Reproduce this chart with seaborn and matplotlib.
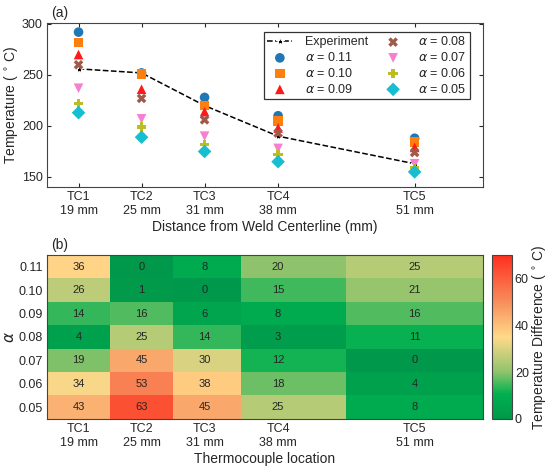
import numpy as np
import pandas as pd
import seaborn as sns
import matplotlib.pyplot as plt
from matplotlib.colors import LinearSegmentedColormap

# thermocouple positions
tc_names = ['TC1', 'TC2', 'TC3', 'TC4', 'TC5']
distance = [19, 25, 31, 38, 51]
tick_labels = ['TC1\n19 mm', 'TC2\n25 mm', 'TC3\n31 mm', 'TC4\n38 mm', 'TC5\n51 mm']

experiment = [256, 252, 220, 190, 163]

alphas = ['0.11', '0.10', '0.09', '0.08', '0.07', '0.06', '0.05']
sim_011 = [292, 252, 228, 210, 188]
sim_010 = [282, 251, 220, 205, 184]
sim_009 = [270, 236, 214, 198, 179]
sim_008 = [260, 227, 206, 193, 174]
sim_007 = [237, 207, 190, 178, 163]
sim_006 = [222, 199, 182, 172, 159]
sim_005 = [213, 189, 175, 165, 155]

# temperature difference table (rows = alpha 0.11 .. 0.05)
diff_011 = [36, 0, 8, 20, 25]
diff_010 = [26, 1, 0, 15, 21]
diff_009 = [14, 16, 6, 8, 16]
diff_008 = [4, 25, 14, 3, 11]
diff_007 = [19, 45, 30, 12, 0]
diff_006 = [34, 53, 38, 18, 4]
diff_005 = [43, 63, 45, 25, 8]

sim_all = [sim_011, sim_010, sim_009, sim_008, sim_007, sim_006, sim_005]
diff_all = np.array([diff_011, diff_010, diff_009, diff_008, diff_007, diff_006, diff_005])

markers = ['o', 's', '^', 'X', 'v', 'P', 'D']
colors = ['#1f77b4', '#ff7f0e', '#ff1a1a', '#a05a4a', '#f77fcf', '#bcbd22', '#17becf']

sns.set_style('ticks')
plt.rcParams['font.family'] = ['Liberation Sans', 'DejaVu Sans']
plt.rcParams['mathtext.fontset'] = 'dejavusans'
plt.rcParams['xtick.direction'] = 'in'
plt.rcParams['ytick.direction'] = 'in'
plt.rcParams['axes.edgecolor'] = '#444444'

fig = plt.figure(figsize=(5.5, 4.68), dpi=100)
ax1 = fig.add_axes([0.0855, 0.600, 0.7925, 0.351])
ax2 = fig.add_axes([0.0855, 0.105, 0.7925, 0.350])
cax = fig.add_axes([0.8945, 0.105, 0.0365, 0.350])

# cell edges halfway between thermocouples
mids = [(a + b) / 2 for a, b in zip(distance[:-1], distance[1:])]
x_edges = [distance[0] - (mids[0] - distance[0])] + mids + [distance[-1] + (distance[-1] - mids[-1])]

# ---- (a) temperatures ----
sns.lineplot(x=distance, y=experiment, ax=ax1, color='black', linestyle='--',
             marker='*', markersize=6, linewidth=1.1, label='Experiment')
for a, vals, m, c in zip(alphas, sim_all, markers, colors):
    sns.scatterplot(x=distance, y=vals, ax=ax1, marker=m, color=c, s=48,
                    edgecolor='none', label=r'$\alpha$ = ' + a, zorder=3)

ax1.set_xlim(x_edges[0], x_edges[-1])
ax1.set_ylim(140, 301)
ax1.set_yticks([150, 200, 250, 300])
ax1.set_xticks(distance)
ax1.set_xticklabels(tick_labels, fontsize=9)
ax1.tick_params(axis='y', labelsize=9)
ax1.tick_params(top=True, right=True, length=3, pad=3)
ax1.set_xlabel('Distance from Weld Centerline (mm)', fontsize=10, labelpad=2)
ax1.set_ylabel(r'Temperature ($\,^\circ\,$C)', fontsize=10, labelpad=1)
leg = ax1.legend(ncol=2, loc='upper right', fontsize=9, frameon=True, fancybox=False,
                 edgecolor='black', handlelength=2.0, columnspacing=1.0,
                 handletextpad=1.0, borderpad=0.3, labelspacing=0.22,
                 bbox_to_anchor=(0.985, 0.985))
leg.get_frame().set_linewidth(0.9)
ax1.text(0.01, 1.02, '(a)', transform=ax1.transAxes, fontsize=10, va='bottom')

# ---- (b) difference heatmap ----
cmap = LinearSegmentedColormap.from_list('diff', [
    (0.0, '#00984a'), (0.15, '#00b050'), (0.29, '#92c46c'),
    (0.5, '#ffd98a'), (0.72, '#f78c5a'), (1.0, '#ff2f1e')])

y_pos = np.arange(len(alphas))[::-1]
y_edges = np.arange(len(alphas) + 1) - 0.5
mesh = ax2.pcolormesh(x_edges, y_edges, diff_all[::-1], cmap=cmap, vmin=0, vmax=70)
for i, row in enumerate(diff_all):
    for j, v in enumerate(row):
        ax2.text(distance[j], y_pos[i], str(v), ha='center', va='center', fontsize=8)

ax2.set_xlim(x_edges[0], x_edges[-1])
ax2.set_ylim(-0.5, len(alphas) - 0.5)
ax2.set_xticks(distance)
ax2.set_xticklabels(tick_labels, fontsize=9)
ax2.set_yticks(y_pos)
ax2.set_yticklabels(alphas, fontsize=9)
ax2.tick_params(top=True, right=True, length=3, pad=3)
ax2.set_xlabel('Thermocouple location', fontsize=10, labelpad=2)
ax2.set_ylabel(r'$\alpha$', fontsize=11, labelpad=1)
ax2.text(0.01, 1.02, '(b)', transform=ax2.transAxes, fontsize=10, va='bottom')

cb = fig.colorbar(mesh, cax=cax, ticks=[0, 20, 40, 60])
cb.ax.tick_params(labelsize=9, direction='in', length=3, pad=2)
cb.set_label(r'Temperature Difference ($\,^\circ\,$C)', fontsize=10, labelpad=1)

plt.savefig('out.png', dpi=100)
